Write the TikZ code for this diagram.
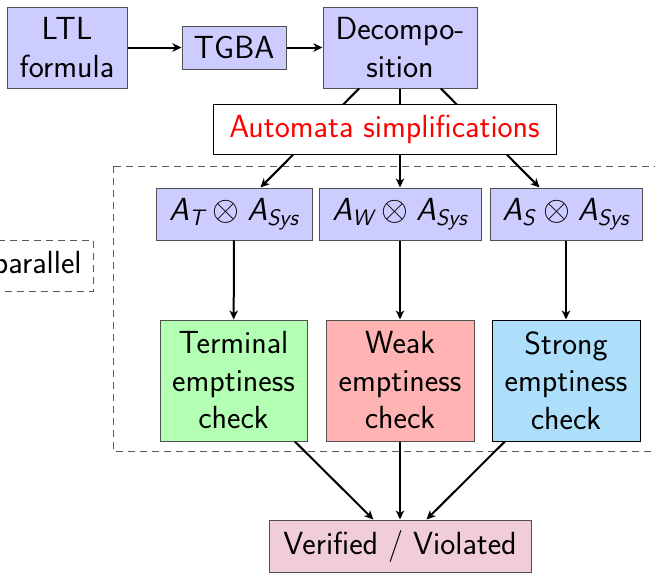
\documentclass[tikz,border=0pt]{standalone}
\usepackage{amsmath}
\usetikzlibrary{arrows.meta}

\definecolor{lav}{RGB}{204,204,255}
\definecolor{termcol}{RGB}{179,255,179}
\definecolor{weakcol}{RGB}{255,179,179}
\definecolor{strongcol}{RGB}{173,223,250}
\definecolor{vercol}{RGB}{241,205,218}
\definecolor{edgegray}{RGB}{80,80,80}

\newcommand{\prodaut}[1]{$\text{\itshape A}_{\text{\itshape #1}}\otimes\text{\itshape A}_{\text{\itshape Sys}}$}

\begin{document}
\begin{tikzpicture}[
  x=0.5pt, y=-0.5pt,
  every node/.style={font=\fontsize{16}{18.75}\selectfont\sffamily},
  box/.style={draw=edgegray, line width=0.5pt, inner sep=0pt, align=center},
  flow/.style={draw=black, line width=1pt, -{Stealth[length=4.5pt,width=4.2pt,inset=1.3pt]}},
  groupline/.style={draw=black!65, line width=0.5pt, dash pattern=on 3.5pt off 2.5pt}
]
\clip (0,0) rectangle (655,573);

% group frame for the parallel checks
\draw[groupline] (113,166) rectangle (720,451);
\node[groupline, anchor=east, inner xsep=6pt, inner ysep=0pt, minimum height=25.5pt] (par) at (94,265.5) {parallel};

% pipeline
\node[box, fill=lav, minimum width=60pt, minimum height=40.5pt] (ltl) at (67,47.5) {LTL\\formula};
\node[box, fill=lav, minimum width=52pt, minimum height=21.5pt] (tgba) at (234,47.5) {TGBA};
\node[box, fill=lav, minimum width=77pt, minimum height=40.5pt] (dec) at (400,47.5) {Decompo-\\sition};

\node[box, fill=lav, minimum width=78pt, minimum height=26pt] (at) at (234,214) {\prodaut{T}};
\node[box, fill=lav, minimum width=81pt, minimum height=26pt] (aw) at (400,214) {\prodaut{W}};
\node[box, fill=lav, minimum width=76pt, minimum height=26pt] (as) at (566,214) {\prodaut{S}};

\node[box, fill=termcol, minimum width=73.5pt, minimum height=60.5pt] (term) at (233.5,380.5) {Terminal\\emptiness\\check};
\node[box, fill=weakcol, minimum width=74pt, minimum height=60.5pt] (weak) at (400,380.5) {Weak\\emptiness\\check};
\node[box, draw=black, fill=strongcol, minimum width=74pt, minimum height=60.5pt] (strong) at (566,380.5) {Strong\\emptiness\\check};

\node[box, fill=vercol, minimum width=131pt, minimum height=26pt] (ver) at (400,546) {Verified / Violated};

% connectors
\draw[flow] (ltl) -- (tgba);
\draw[flow] (tgba) -- (dec);
\draw[flow] (dec) -- (at);
\draw[flow] (dec) -- (aw);
\draw[flow] (dec) -- (as);
\draw[flow] (at) -- (term);
\draw[flow] (aw) -- (weak);
\draw[flow] (as) -- (strong);
\draw[flow] (term) -- (ver);
\draw[flow] (weak) -- (ver);
\draw[flow] (strong) -- (ver);

% simplification step sits over the decomposition fan-out
\node[box, draw=black, fill=white, text=red, minimum width=171.5pt, minimum height=25pt] (simp) at (384.5,129) {Automata simplifications};
\end{tikzpicture}
\end{document}
